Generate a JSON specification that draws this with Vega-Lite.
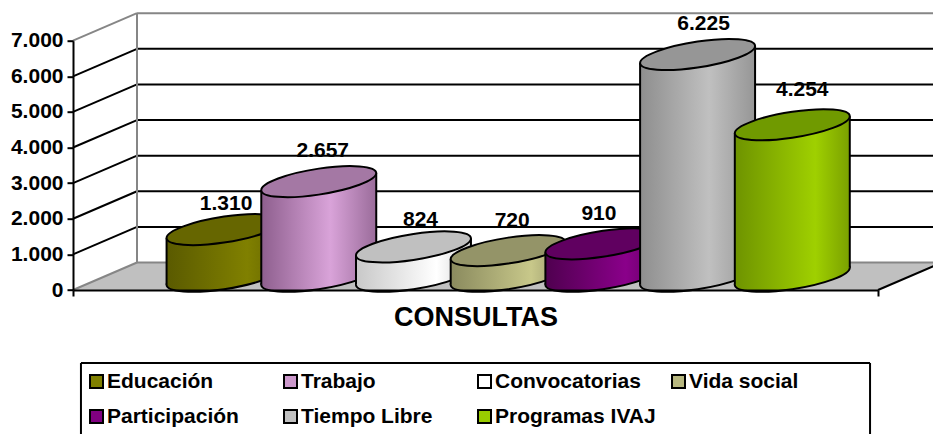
{"$schema":"https://vega.github.io/schema/vega-lite/v6.json","width":805,"height":249.3,"autosize":{"type":"none"},"padding":{"left":73,"top":40.7,"right":55,"bottom":144},"background":"white",
"config":{"view":{"stroke":null},"font":"Liberation Sans","axis":{"grid":false,"labelOverlap":false,"labelFlush":false,"labelBound":false}},
"data":{"values":[{"idx":1,"cat":"Educación","value":1310},{"idx":2,"cat":"Trabajo","value":2657},{"idx":3,"cat":"Convocatorias","value":824},{"idx":4,"cat":"Vida social","value":720},{"idx":5,"cat":"Participación","value":910},{"idx":6,"cat":"Tiempo Libre","value":6225},{"idx":7,"cat":"Programas IVAJ","value":4254}]},
"transform":[{"calculate":"[-1,1]","as":"side"},{"flatten":["side"]},{"calculate":"datum.idx+0.338","as":"cx"},{"calculate":"datum.cx+datum.side*0.607","as":"xp"},{"calculate":"datum.value+386+datum.side*239","as":"ytop"},{"calculate":"386+datum.side*239","as":"ybase"},{"calculate":"datum.value+386","as":"ycen"},{"calculate":"386","as":"ymid"},{"calculate":"replace(format(datum.value,','),',','.')","as":"lbl"},{"calculate":"datum.cx+[-0.021,0,0.032,0,-0.084,0.021,0.063][datum.idx-1]","as":"lx"},{"calculate":"datum.value+[-140,0,-84,-28,0,0,140][datum.idx-1]","as":"ly"}],
"layer":[
{"data":{"values":[{"u":-0.257,"a":0,"b":0},{"u":0.419,"a":772,"b":0},{"u":8.243,"a":772,"b":0},{"u":8.919,"a":772,"b":772}]},
"mark":{"type":"area","fill":"#c0c0c0","stroke":null},
"encoding":{"x":{"field":"u","type":"quantitative","scale":{"domain":[-0.257,8.243],"nice":false},"axis":{"values":[-0.257,8.243],"labels":false,"grid":false,"domainColor":"black","domainWidth":2,"tickColor":"black","tickWidth":2,"tickSize":6,"title":"CONSULTAS","titleFont":"Liberation Sans","titleFontSize":27,"titleFontWeight":"bold","titleColor":"black","titlePadding":7,"zindex":1}},
"y":{"field":"a","type":"quantitative","scale":{"domain":[0,7000],"nice":false},"axis":{"values":[0,1000,2000,3000,4000,5000,6000,7000],"tickCount":8,"labelExpr":"replace(format(datum.value,','),',','.')","labelOverlap":false,"grid":false,"title":"","domainColor":"black","domainWidth":2,"tickColor":"black","tickWidth":2,"tickSize":6,"labelFont":"Liberation Sans","labelFontSize":21,"labelFontWeight":"bold","labelColor":"black","labelPadding":4,"zindex":1}},
"y2":{"field":"b"}}},
{"data":{"values":[{"x0":-0.173,"x1":8.159,"yt":-2050,"yb":-4100}]},
"layer":[
{"mark":{"type":"rule","strokeWidth":2,"color":"black"},"encoding":{"x":{"field":"x0","type":"quantitative","scale":{"domain":[-0.257,8.243],"nice":false}},"x2":{"field":"x1"},"y":{"field":"yt","type":"quantitative","scale":{"domain":[0,7000],"nice":false}}}},
{"mark":{"type":"rule","strokeWidth":2,"color":"black"},"encoding":{"x":{"field":"x0","type":"quantitative","scale":{"domain":[-0.257,8.243],"nice":false}},"y":{"field":"yt","type":"quantitative","scale":{"domain":[0,7000],"nice":false}},"y2":{"field":"yb"}}},
{"mark":{"type":"rule","strokeWidth":2,"color":"black"},"encoding":{"x":{"field":"x1","type":"quantitative","scale":{"domain":[-0.257,8.243],"nice":false}},"y":{"field":"yt","type":"quantitative","scale":{"domain":[0,7000],"nice":false}},"y2":{"field":"yb"}}}
]},
{"data":{"values":[{"tick":0},{"tick":1000},{"tick":2000},{"tick":3000},{"tick":4000},{"tick":5000},{"tick":6000},{"tick":7000}]},
"transform":[{"calculate":"datum.tick+772","as":"back"},{"calculate":"0.419","as":"xb"},{"calculate":"-0.257","as":"xf"},{"calculate":"9.2","as":"xr"},{"calculate":"8.243","as":"xe"},{"calculate":"8.919","as":"xg"},{"calculate":"772","as":"yb"},{"calculate":"7772","as":"yt"},{"calculate":"0","as":"y0"}],
"layer":[
{"mark":{"type":"rule","strokeWidth":2},"encoding":{"x":{"field":"xb","type":"quantitative","scale":{"domain":[-0.257,8.243],"nice":false}},"x2":{"field":"xr"},"y":{"field":"back","type":"quantitative","scale":{"domain":[0,7000],"nice":false}},"color":{"condition":{"test":"datum.tick==0||datum.tick==7000","value":"#868686"},"value":"black"}}},
{"mark":{"type":"rule","strokeWidth":2},"encoding":{"x":{"field":"xf","type":"quantitative","scale":{"domain":[-0.257,8.243],"nice":false}},"x2":{"field":"xb"},"y":{"field":"tick","type":"quantitative","scale":{"domain":[0,7000],"nice":false}},"y2":{"field":"back"},"color":{"condition":{"test":"datum.tick==0||datum.tick==7000","value":"#868686"},"value":"black"}}},
{"transform":[{"filter":"datum.tick==0"}],"mark":{"type":"rule","strokeWidth":2,"color":"#868686"},"encoding":{"x":{"field":"xb","type":"quantitative","scale":{"domain":[-0.257,8.243],"nice":false}},"y":{"field":"yb","type":"quantitative","scale":{"domain":[0,7000],"nice":false}},"y2":{"field":"yt"}}},
{"transform":[{"filter":"datum.tick==0"}],"mark":{"type":"rule","strokeWidth":2,"color":"black"},"encoding":{"x":{"field":"xe","type":"quantitative","scale":{"domain":[-0.257,8.243],"nice":false}},"x2":{"field":"xg"},"y":{"field":"y0","type":"quantitative","scale":{"domain":[0,7000],"nice":false}},"y2":{"field":"yb"}}}
]},
{"transform":[{"filter":"datum.side==1"}],"mark":{"type":"square","size":0,"opacity":1},"encoding":{"x":{"field":"cx","type":"quantitative","scale":{"domain":[-0.257,8.243],"nice":false}},"y":{"field":"ycen","type":"quantitative","scale":{"domain":[0,7000],"nice":false}},"fill":{"field":"cat","type":"nominal","scale":{"domain":["Educación","Trabajo","Convocatorias","Vida social","Participación","Tiempo Libre","Programas IVAJ"],"range":["#808000","#cc99cc","#ffffff","#b8b880","#800080","#c0c0c0","#99cc00"]},"legend":{"title":null,"orient":"none","direction":"horizontal","legendX":8,"legendY":322.3,"columns":4,"gridAlign":"all","columnPadding":12,"rowPadding":13,"padding":8,"symbolType":"square","symbolSize":169,"symbolOffset":-3,"symbolStrokeColor":"black","symbolStrokeWidth":2,"symbolOpacity":1,"labelFont":"Liberation Sans","labelFontSize":21,"labelFontWeight":"bold","labelColor":"black","labelOffset":0,"labelLimit":300}}}},
{"transform":[{"filter":"datum.idx==1"}],"layer":[
{"transform":[{"filter":"datum.side==1"}],"mark":{"type":"point","filled":true,"opacity":1,"size":13225,"shape":"M1,-0.148C1,-0.0232,0.5523,0.1443,0,0.226C-0.5523,0.3077,-1,0.2728,-1,0.148C-1,0.0232,-0.5523,-0.1443,0,-0.226C0.5523,-0.3077,1,-0.2728,1,-0.148Z","fill":{"x1":0,"y1":0,"x2":1,"y2":0,"gradient":"linear","stops":[{"offset":0,"color":"#5a5a00"},{"offset":0.7,"color":"#808000"},{"offset":1,"color":"#666600"}]},"stroke":"black","strokeWidth":2},"encoding":{"x":{"field":"cx","type":"quantitative","scale":{"domain":[-0.257,8.243],"nice":false}},"y":{"field":"ymid","type":"quantitative","scale":{"domain":[0,7000],"nice":false}}}},
{"mark":{"type":"area","stroke":null,"fill":{"x1":0,"y1":0,"x2":1,"y2":0,"gradient":"linear","stops":[{"offset":0,"color":"#5a5a00"},{"offset":0.7,"color":"#808000"},{"offset":1,"color":"#666600"}]}},"encoding":{"x":{"field":"xp","type":"quantitative","scale":{"domain":[-0.257,8.243],"nice":false}},"y":{"field":"ytop","type":"quantitative","scale":{"domain":[0,7000],"nice":false}},"y2":{"field":"ybase"}}},
{"mark":{"type":"rule","color":"black","strokeWidth":2},"encoding":{"x":{"field":"xp","type":"quantitative","scale":{"domain":[-0.257,8.243],"nice":false}},"y":{"field":"ytop","type":"quantitative","scale":{"domain":[0,7000],"nice":false}},"y2":{"field":"ybase"}}},
{"transform":[{"filter":"datum.side==1"}],"mark":{"type":"point","filled":true,"opacity":1,"size":13225,"shape":"M1,-0.148C1,-0.0232,0.5523,0.1443,0,0.226C-0.5523,0.3077,-1,0.2728,-1,0.148C-1,0.0232,-0.5523,-0.1443,0,-0.226C0.5523,-0.3077,1,-0.2728,1,-0.148Z","fill":"#666600","stroke":"black","strokeWidth":2},"encoding":{"x":{"field":"cx","type":"quantitative","scale":{"domain":[-0.257,8.243],"nice":false}},"y":{"field":"ycen","type":"quantitative","scale":{"domain":[0,7000],"nice":false}}}}
]},
{"transform":[{"filter":"datum.idx==2"}],"layer":[
{"transform":[{"filter":"datum.side==1"}],"mark":{"type":"point","filled":true,"opacity":1,"size":13225,"shape":"M1,-0.148C1,-0.0232,0.5523,0.1443,0,0.226C-0.5523,0.3077,-1,0.2728,-1,0.148C-1,0.0232,-0.5523,-0.1443,0,-0.226C0.5523,-0.3077,1,-0.2728,1,-0.148Z","fill":{"x1":0,"y1":0,"x2":1,"y2":0,"gradient":"linear","stops":[{"offset":0,"color":"#8e5f8e"},{"offset":0.6,"color":"#d9a3d9"},{"offset":1,"color":"#9a6c9a"}]},"stroke":"black","strokeWidth":2},"encoding":{"x":{"field":"cx","type":"quantitative","scale":{"domain":[-0.257,8.243],"nice":false}},"y":{"field":"ymid","type":"quantitative","scale":{"domain":[0,7000],"nice":false}}}},
{"mark":{"type":"area","stroke":null,"fill":{"x1":0,"y1":0,"x2":1,"y2":0,"gradient":"linear","stops":[{"offset":0,"color":"#8e5f8e"},{"offset":0.6,"color":"#d9a3d9"},{"offset":1,"color":"#9a6c9a"}]}},"encoding":{"x":{"field":"xp","type":"quantitative","scale":{"domain":[-0.257,8.243],"nice":false}},"y":{"field":"ytop","type":"quantitative","scale":{"domain":[0,7000],"nice":false}},"y2":{"field":"ybase"}}},
{"mark":{"type":"rule","color":"black","strokeWidth":2},"encoding":{"x":{"field":"xp","type":"quantitative","scale":{"domain":[-0.257,8.243],"nice":false}},"y":{"field":"ytop","type":"quantitative","scale":{"domain":[0,7000],"nice":false}},"y2":{"field":"ybase"}}},
{"transform":[{"filter":"datum.side==1"}],"mark":{"type":"point","filled":true,"opacity":1,"size":13225,"shape":"M1,-0.148C1,-0.0232,0.5523,0.1443,0,0.226C-0.5523,0.3077,-1,0.2728,-1,0.148C-1,0.0232,-0.5523,-0.1443,0,-0.226C0.5523,-0.3077,1,-0.2728,1,-0.148Z","fill":"#a478a4","stroke":"black","strokeWidth":2},"encoding":{"x":{"field":"cx","type":"quantitative","scale":{"domain":[-0.257,8.243],"nice":false}},"y":{"field":"ycen","type":"quantitative","scale":{"domain":[0,7000],"nice":false}}}}
]},
{"transform":[{"filter":"datum.idx==3"}],"layer":[
{"transform":[{"filter":"datum.side==1"}],"mark":{"type":"point","filled":true,"opacity":1,"size":13225,"shape":"M1,-0.148C1,-0.0232,0.5523,0.1443,0,0.226C-0.5523,0.3077,-1,0.2728,-1,0.148C-1,0.0232,-0.5523,-0.1443,0,-0.226C0.5523,-0.3077,1,-0.2728,1,-0.148Z","fill":{"x1":0,"y1":0,"x2":1,"y2":0,"gradient":"linear","stops":[{"offset":0,"color":"#c8c8c8"},{"offset":0.7,"color":"#ffffff"},{"offset":1,"color":"#d4d4d4"}]},"stroke":"black","strokeWidth":2},"encoding":{"x":{"field":"cx","type":"quantitative","scale":{"domain":[-0.257,8.243],"nice":false}},"y":{"field":"ymid","type":"quantitative","scale":{"domain":[0,7000],"nice":false}}}},
{"mark":{"type":"area","stroke":null,"fill":{"x1":0,"y1":0,"x2":1,"y2":0,"gradient":"linear","stops":[{"offset":0,"color":"#c8c8c8"},{"offset":0.7,"color":"#ffffff"},{"offset":1,"color":"#d4d4d4"}]}},"encoding":{"x":{"field":"xp","type":"quantitative","scale":{"domain":[-0.257,8.243],"nice":false}},"y":{"field":"ytop","type":"quantitative","scale":{"domain":[0,7000],"nice":false}},"y2":{"field":"ybase"}}},
{"mark":{"type":"rule","color":"black","strokeWidth":2},"encoding":{"x":{"field":"xp","type":"quantitative","scale":{"domain":[-0.257,8.243],"nice":false}},"y":{"field":"ytop","type":"quantitative","scale":{"domain":[0,7000],"nice":false}},"y2":{"field":"ybase"}}},
{"transform":[{"filter":"datum.side==1"}],"mark":{"type":"point","filled":true,"opacity":1,"size":13225,"shape":"M1,-0.148C1,-0.0232,0.5523,0.1443,0,0.226C-0.5523,0.3077,-1,0.2728,-1,0.148C-1,0.0232,-0.5523,-0.1443,0,-0.226C0.5523,-0.3077,1,-0.2728,1,-0.148Z","fill":"#c0c0c0","stroke":"black","strokeWidth":2},"encoding":{"x":{"field":"cx","type":"quantitative","scale":{"domain":[-0.257,8.243],"nice":false}},"y":{"field":"ycen","type":"quantitative","scale":{"domain":[0,7000],"nice":false}}}}
]},
{"transform":[{"filter":"datum.idx==4"}],"layer":[
{"transform":[{"filter":"datum.side==1"}],"mark":{"type":"point","filled":true,"opacity":1,"size":13225,"shape":"M1,-0.148C1,-0.0232,0.5523,0.1443,0,0.226C-0.5523,0.3077,-1,0.2728,-1,0.148C-1,0.0232,-0.5523,-0.1443,0,-0.226C0.5523,-0.3077,1,-0.2728,1,-0.148Z","fill":{"x1":0,"y1":0,"x2":1,"y2":0,"gradient":"linear","stops":[{"offset":0,"color":"#8a8a5e"},{"offset":0.7,"color":"#c8c88a"},{"offset":1,"color":"#94946a"}]},"stroke":"black","strokeWidth":2},"encoding":{"x":{"field":"cx","type":"quantitative","scale":{"domain":[-0.257,8.243],"nice":false}},"y":{"field":"ymid","type":"quantitative","scale":{"domain":[0,7000],"nice":false}}}},
{"mark":{"type":"area","stroke":null,"fill":{"x1":0,"y1":0,"x2":1,"y2":0,"gradient":"linear","stops":[{"offset":0,"color":"#8a8a5e"},{"offset":0.7,"color":"#c8c88a"},{"offset":1,"color":"#94946a"}]}},"encoding":{"x":{"field":"xp","type":"quantitative","scale":{"domain":[-0.257,8.243],"nice":false}},"y":{"field":"ytop","type":"quantitative","scale":{"domain":[0,7000],"nice":false}},"y2":{"field":"ybase"}}},
{"mark":{"type":"rule","color":"black","strokeWidth":2},"encoding":{"x":{"field":"xp","type":"quantitative","scale":{"domain":[-0.257,8.243],"nice":false}},"y":{"field":"ytop","type":"quantitative","scale":{"domain":[0,7000],"nice":false}},"y2":{"field":"ybase"}}},
{"transform":[{"filter":"datum.side==1"}],"mark":{"type":"point","filled":true,"opacity":1,"size":13225,"shape":"M1,-0.148C1,-0.0232,0.5523,0.1443,0,0.226C-0.5523,0.3077,-1,0.2728,-1,0.148C-1,0.0232,-0.5523,-0.1443,0,-0.226C0.5523,-0.3077,1,-0.2728,1,-0.148Z","fill":"#949468","stroke":"black","strokeWidth":2},"encoding":{"x":{"field":"cx","type":"quantitative","scale":{"domain":[-0.257,8.243],"nice":false}},"y":{"field":"ycen","type":"quantitative","scale":{"domain":[0,7000],"nice":false}}}}
]},
{"transform":[{"filter":"datum.idx==5"}],"layer":[
{"transform":[{"filter":"datum.side==1"}],"mark":{"type":"point","filled":true,"opacity":1,"size":13225,"shape":"M1,-0.148C1,-0.0232,0.5523,0.1443,0,0.226C-0.5523,0.3077,-1,0.2728,-1,0.148C-1,0.0232,-0.5523,-0.1443,0,-0.226C0.5523,-0.3077,1,-0.2728,1,-0.148Z","fill":{"x1":0,"y1":0,"x2":1,"y2":0,"gradient":"linear","stops":[{"offset":0,"color":"#4f004f"},{"offset":0.7,"color":"#8a008a"},{"offset":1,"color":"#640064"}]},"stroke":"black","strokeWidth":2},"encoding":{"x":{"field":"cx","type":"quantitative","scale":{"domain":[-0.257,8.243],"nice":false}},"y":{"field":"ymid","type":"quantitative","scale":{"domain":[0,7000],"nice":false}}}},
{"mark":{"type":"area","stroke":null,"fill":{"x1":0,"y1":0,"x2":1,"y2":0,"gradient":"linear","stops":[{"offset":0,"color":"#4f004f"},{"offset":0.7,"color":"#8a008a"},{"offset":1,"color":"#640064"}]}},"encoding":{"x":{"field":"xp","type":"quantitative","scale":{"domain":[-0.257,8.243],"nice":false}},"y":{"field":"ytop","type":"quantitative","scale":{"domain":[0,7000],"nice":false}},"y2":{"field":"ybase"}}},
{"mark":{"type":"rule","color":"black","strokeWidth":2},"encoding":{"x":{"field":"xp","type":"quantitative","scale":{"domain":[-0.257,8.243],"nice":false}},"y":{"field":"ytop","type":"quantitative","scale":{"domain":[0,7000],"nice":false}},"y2":{"field":"ybase"}}},
{"transform":[{"filter":"datum.side==1"}],"mark":{"type":"point","filled":true,"opacity":1,"size":13225,"shape":"M1,-0.148C1,-0.0232,0.5523,0.1443,0,0.226C-0.5523,0.3077,-1,0.2728,-1,0.148C-1,0.0232,-0.5523,-0.1443,0,-0.226C0.5523,-0.3077,1,-0.2728,1,-0.148Z","fill":"#600060","stroke":"black","strokeWidth":2},"encoding":{"x":{"field":"cx","type":"quantitative","scale":{"domain":[-0.257,8.243],"nice":false}},"y":{"field":"ycen","type":"quantitative","scale":{"domain":[0,7000],"nice":false}}}}
]},
{"transform":[{"filter":"datum.idx==6"}],"layer":[
{"transform":[{"filter":"datum.side==1"}],"mark":{"type":"point","filled":true,"opacity":1,"size":13225,"shape":"M1,-0.148C1,-0.0232,0.5523,0.1443,0,0.226C-0.5523,0.3077,-1,0.2728,-1,0.148C-1,0.0232,-0.5523,-0.1443,0,-0.226C0.5523,-0.3077,1,-0.2728,1,-0.148Z","fill":{"x1":0,"y1":0,"x2":1,"y2":0,"gradient":"linear","stops":[{"offset":0,"color":"#8e8e8e"},{"offset":0.6,"color":"#c0c0c0"},{"offset":1,"color":"#969696"}]},"stroke":"black","strokeWidth":2},"encoding":{"x":{"field":"cx","type":"quantitative","scale":{"domain":[-0.257,8.243],"nice":false}},"y":{"field":"ymid","type":"quantitative","scale":{"domain":[0,7000],"nice":false}}}},
{"mark":{"type":"area","stroke":null,"fill":{"x1":0,"y1":0,"x2":1,"y2":0,"gradient":"linear","stops":[{"offset":0,"color":"#8e8e8e"},{"offset":0.6,"color":"#c0c0c0"},{"offset":1,"color":"#969696"}]}},"encoding":{"x":{"field":"xp","type":"quantitative","scale":{"domain":[-0.257,8.243],"nice":false}},"y":{"field":"ytop","type":"quantitative","scale":{"domain":[0,7000],"nice":false}},"y2":{"field":"ybase"}}},
{"mark":{"type":"rule","color":"black","strokeWidth":2},"encoding":{"x":{"field":"xp","type":"quantitative","scale":{"domain":[-0.257,8.243],"nice":false}},"y":{"field":"ytop","type":"quantitative","scale":{"domain":[0,7000],"nice":false}},"y2":{"field":"ybase"}}},
{"transform":[{"filter":"datum.side==1"}],"mark":{"type":"point","filled":true,"opacity":1,"size":13225,"shape":"M1,-0.148C1,-0.0232,0.5523,0.1443,0,0.226C-0.5523,0.3077,-1,0.2728,-1,0.148C-1,0.0232,-0.5523,-0.1443,0,-0.226C0.5523,-0.3077,1,-0.2728,1,-0.148Z","fill":"#969696","stroke":"black","strokeWidth":2},"encoding":{"x":{"field":"cx","type":"quantitative","scale":{"domain":[-0.257,8.243],"nice":false}},"y":{"field":"ycen","type":"quantitative","scale":{"domain":[0,7000],"nice":false}}}}
]},
{"transform":[{"filter":"datum.idx==7"}],"layer":[
{"transform":[{"filter":"datum.side==1"}],"mark":{"type":"point","filled":true,"opacity":1,"size":13225,"shape":"M1,-0.148C1,-0.0232,0.5523,0.1443,0,0.226C-0.5523,0.3077,-1,0.2728,-1,0.148C-1,0.0232,-0.5523,-0.1443,0,-0.226C0.5523,-0.3077,1,-0.2728,1,-0.148Z","fill":{"x1":0,"y1":0,"x2":1,"y2":0,"gradient":"linear","stops":[{"offset":0,"color":"#6e9300"},{"offset":0.7,"color":"#9fd000"},{"offset":1,"color":"#7aa000"}]},"stroke":"black","strokeWidth":2},"encoding":{"x":{"field":"cx","type":"quantitative","scale":{"domain":[-0.257,8.243],"nice":false}},"y":{"field":"ymid","type":"quantitative","scale":{"domain":[0,7000],"nice":false}}}},
{"mark":{"type":"area","stroke":null,"fill":{"x1":0,"y1":0,"x2":1,"y2":0,"gradient":"linear","stops":[{"offset":0,"color":"#6e9300"},{"offset":0.7,"color":"#9fd000"},{"offset":1,"color":"#7aa000"}]}},"encoding":{"x":{"field":"xp","type":"quantitative","scale":{"domain":[-0.257,8.243],"nice":false}},"y":{"field":"ytop","type":"quantitative","scale":{"domain":[0,7000],"nice":false}},"y2":{"field":"ybase"}}},
{"mark":{"type":"rule","color":"black","strokeWidth":2},"encoding":{"x":{"field":"xp","type":"quantitative","scale":{"domain":[-0.257,8.243],"nice":false}},"y":{"field":"ytop","type":"quantitative","scale":{"domain":[0,7000],"nice":false}},"y2":{"field":"ybase"}}},
{"transform":[{"filter":"datum.side==1"}],"mark":{"type":"point","filled":true,"opacity":1,"size":13225,"shape":"M1,-0.148C1,-0.0232,0.5523,0.1443,0,0.226C-0.5523,0.3077,-1,0.2728,-1,0.148C-1,0.0232,-0.5523,-0.1443,0,-0.226C0.5523,-0.3077,1,-0.2728,1,-0.148Z","fill":"#709a00","stroke":"black","strokeWidth":2},"encoding":{"x":{"field":"cx","type":"quantitative","scale":{"domain":[-0.257,8.243],"nice":false}},"y":{"field":"ycen","type":"quantitative","scale":{"domain":[0,7000],"nice":false}}}}
]},
{"transform":[{"filter":"datum.side==1"}],"mark":{"type":"text","font":"Liberation Sans","fontSize":21,"fontWeight":"bold","color":"black","dx":4,"dy":-44,"baseline":"middle"},"encoding":{"x":{"field":"lx","type":"quantitative","scale":{"domain":[-0.257,8.243],"nice":false}},"y":{"field":"ly","type":"quantitative","scale":{"domain":[0,7000],"nice":false}},"text":{"field":"lbl","type":"nominal"}}}
]}
